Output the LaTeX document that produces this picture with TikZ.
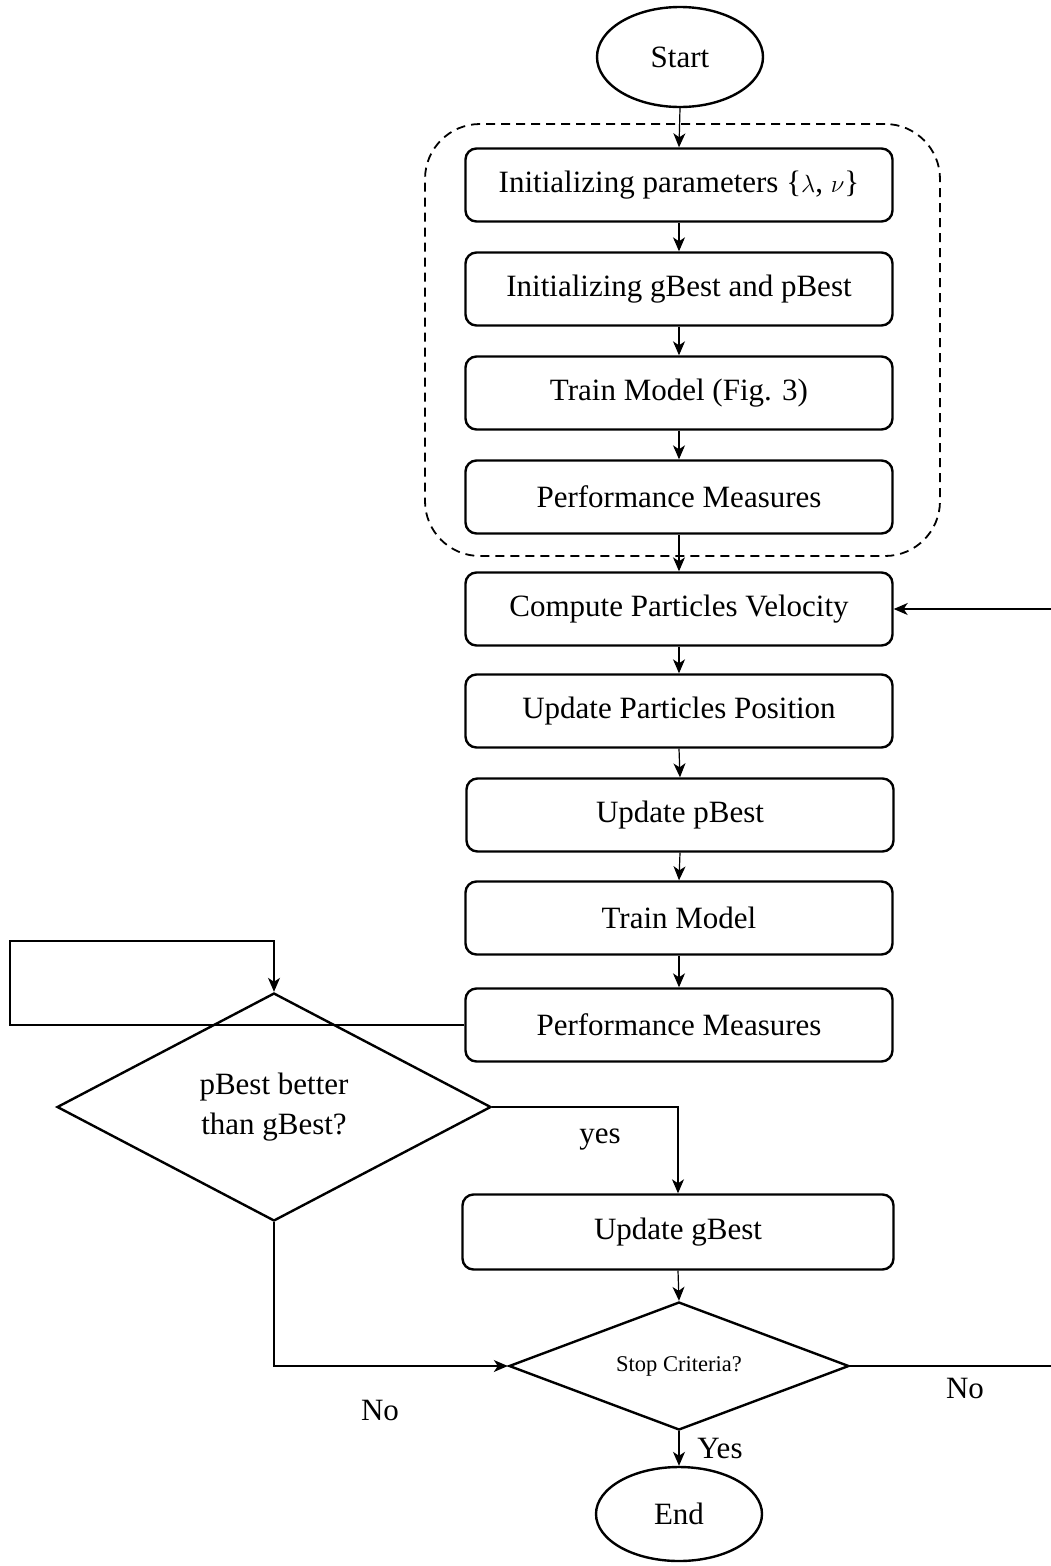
\documentclass[tikz,border=0pt]{standalone}
\usepackage{fontspec}
\setmainfont{Liberation Serif}
\usetikzlibrary{shapes.geometric,arrows.meta}
\begin{document}
\begin{tikzpicture}[x=1pt,y=-1pt,
  txt/.style={font=\fontsize{31}{40}\selectfont},
  proc/.style={txt,draw,line width=2.4pt,rounded corners=11pt,minimum width=427pt,minimum height=73pt,inner sep=0pt},
  term/.style={txt,draw,ellipse,line width=2.4pt,minimum width=166pt,minimum height=100pt,inner sep=0pt},
  dec/.style={txt,draw,diamond,line width=2.4pt,inner sep=0pt,align=center},
  conn/.style={line width=1.2pt,-{Stealth[length=14pt,width=12pt,inset=4pt]}},
  lbl/.style={txt}]
\useasboundingbox (0,0) rectangle (1050,1566);
\node[draw,dashed,line width=1.8pt,dash pattern=on 9pt off 6pt,rounded corners=55pt,minimum width=515pt,minimum height=432pt] (grp) at (682.5,340) {};
\node[term] (start) at (680,57) {Start};
\node[proc] (b1) at (679,185) {Initializing parameters \{$\lambda$, $\nu$\}};
\node[proc] (b2) at (679,289) {Initializing gBest and pBest};
\node[proc] (b3) at (679,393) {Train Model (Fig. 3)};
\node[proc] (b4) at (679,497) {Performance Measures};
\node[proc] (b5) at (679,609) {Compute Particles Velocity};
\node[proc] (b6) at (679,711) {Update Particles Position};
\node[proc] (b7) at (680,815) {Update pBest};
\node[proc] (b8) at (679,918) {Train Model};
\node[proc] (b9) at (679,1025) {Performance Measures};
\node[dec,shape aspect=1.9,minimum width=434pt,minimum height=228pt] (d1) at (274,1107) {pBest better\\than gBest?};
\node[proc,minimum width=431pt,minimum height=75pt] (b10) at (678,1232) {Update gBest};
\node[dec,shape aspect=2.65,minimum width=340pt,minimum height=128pt,font=\fontsize{22.5}{26}\selectfont] (d2) at (679,1366) {Stop Criteria?};
\node[term,minimum height=94pt] (end) at (679,1514) {End};
\draw[conn] (start.south) -- (b1.north);
\draw[conn] (b1.south) -- (b2.north);
\draw[conn] (b2.south) -- (b3.north);
\draw[conn] (b3.south) -- (b4.north);
\draw[conn] (b4.south) -- (b5.north);
\draw[conn] (b5.south) -- (b6.north);
\draw[conn] (b6.south) -- (b7.north);
\draw[conn] (b7.south) -- (b8.north);
\draw[conn] (b8.south) -- (b9.north);
\draw[conn] (b9.west) -| (10,941) -| (d1.north);
\draw[conn] (d1.east) -| (b10.north);
\draw[conn] (b10.south) -- (d2.north);
\draw[conn] (d1.south) |- (d2.west);
\draw[conn] (d2.east) -- (1053,1366) |- (b5.east);
\draw[conn] (d2.south) -- (end.north);
\node[lbl] (lyes) at (600,1140) {yes};
\node[lbl] (lno1) at (380,1410) {No};
\node[lbl] (lno2) at (965,1388) {No};
\node[lbl] (lyes2) at (720,1448) {Yes};
\end{tikzpicture}
\end{document}
